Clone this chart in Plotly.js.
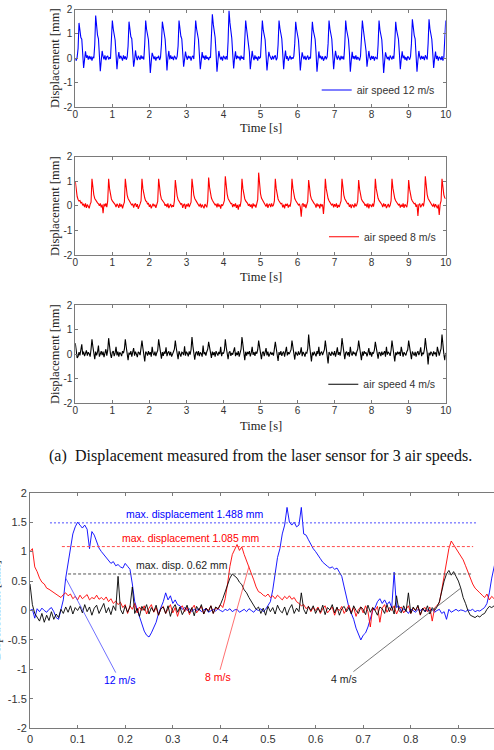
<!DOCTYPE html>
<html>
<head>
<meta charset="utf-8">
<script src="https://cdn.plot.ly/plotly-3.0.1.min.js"></script>
<style>
  html, body { margin: 0; padding: 0; overflow: hidden; background: #fff; }
  #chart { width: 520px; height: 750px; }
</style>
</head>
<body>
<div id="chart"></div>
<script>
// ---------------------------------------------------------------
// Laser-sensor displacement [mm], sampled every 25 ms over 10 s
// ---------------------------------------------------------------
const sampleStepLong = 0.025;   // s
const sampleStepShort = 0.005;  // s

// air speed 12 m/s (one row per flapping cycle, starting at the peak)
const disp12Lead = [0.0, -0.1, 0.05, 0.4];
const disp12Cycles = [
  [1.45, 1.12, 0.85, 0.78, 0.25, -0.4, -0.05, 0.28, 0.02, 0.12, -0.06, 0.1, -0.04, 0.08, -0.1, 0.06, 0.0, 0.55],
  [1.75, 1.3, 0.95, 0.8, 0.2, -0.53, -0.1, 0.3, 0.08, -0.05, 0.12, -0.08, 0.06, 0.1, -0.05, 0.04, -0.02, 0.6],
  [1.55, 1.2, 0.9, 0.75, 0.15, -0.45, 0.0, 0.25, -0.02, 0.1, 0.02, -0.1, 0.12, -0.03, 0.08, -0.06, 0.05, 0.5],
  [1.5, 1.15, 0.88, 0.8, 0.3, -0.35, -0.08, 0.32, 0.05, -0.08, 0.1, 0.04, -0.06, 0.12, -0.02, 0.07, -0.05, 0.6],
  [1.55, 1.18, 0.92, 0.76, 0.1, -0.6, -0.15, 0.22, 0.1, -0.04, 0.08, -0.1, 0.05, 0.0, 0.1, -0.07, 0.03, 0.55],
  [1.5, 1.2, 0.87, 0.78, 0.2, -0.5, 0.02, 0.3, -0.05, 0.12, -0.02, 0.06, -0.08, 0.1, 0.03, -0.05, 0.08, 0.5],
  [1.55, 1.16, 0.9, 0.8, 0.28, -0.35, -0.05, 0.27, 0.06, -0.06, 0.1, 0.0, 0.08, -0.1, 0.05, 0.1, -0.03, 0.6],
  [1.55, 1.2, 0.95, 0.77, 0.15, -0.45, -0.1, 0.25, 0.0, 0.1, -0.07, 0.12, -0.02, 0.05, -0.08, 0.06, 0.02, 0.65],
  [1.8, 1.4, 1.05, 0.85, 0.22, -0.55, -0.12, 0.3, 0.08, -0.05, 0.06, -0.1, 0.1, 0.02, -0.04, 0.09, -0.06, 0.7],
  [1.95, 1.45, 1.1, 0.82, 0.18, -0.42, 0.0, 0.28, -0.04, 0.1, 0.0, 0.07, -0.09, 0.11, -0.02, 0.05, -0.07, 0.55],
  [1.55, 1.2, 0.9, 0.78, 0.25, -0.45, -0.06, 0.3, 0.05, -0.08, 0.12, -0.03, 0.06, -0.1, 0.08, 0.0, 0.04, 0.6],
  [1.55, 1.15, 0.88, 0.76, 0.12, -0.5, -0.1, 0.26, 0.1, 0.0, -0.06, 0.1, -0.04, 0.07, 0.12, -0.08, 0.02, 0.55],
  [1.55, 1.22, 0.92, 0.8, 0.2, -0.45, 0.02, 0.32, -0.03, 0.08, -0.1, 0.05, 0.1, -0.05, 0.04, -0.02, 0.09, 0.6],
  [1.5, 1.18, 0.9, 0.75, 0.18, -0.5, -0.08, 0.24, 0.06, -0.04, 0.1, -0.07, 0.03, 0.11, -0.06, 0.05, -0.01, 0.55],
  [1.5, 1.14, 0.87, 0.78, 0.22, -0.55, -0.12, 0.28, 0.0, 0.1, -0.05, 0.08, -0.1, 0.04, 0.09, -0.04, 0.06, 0.6],
  [1.55, 1.2, 0.93, 0.79, 0.16, -0.45, -0.02, 0.3, 0.07, -0.06, 0.11, 0.0, -0.08, 0.1, -0.03, 0.07, -0.05, 0.55],
  [1.55, 1.17, 0.9, 0.77, 0.24, -0.55, -0.1, 0.26, -0.02, 0.09, -0.04, 0.12, -0.06, 0.05, 0.0, -0.09, 0.08, 0.6],
  [1.55, 1.2, 0.91, 0.8, 0.3, -0.35, 0.0, 0.3, 0.04, -0.07, 0.1, -0.02, 0.08, -0.1, 0.06, 0.02, -0.04, 0.55],
  [1.55, 1.16, 0.88, 0.76, 0.12, -0.6, -0.14, 0.24, 0.08, -0.03, 0.06, -0.09, 0.11, 0.0, -0.05, 0.1, -0.02, 0.6],
  [1.5, 1.15, 0.9, 0.78, 0.2, -0.45, -0.04, 0.28, 0.0, 0.11, -0.06, 0.05, -0.1, 0.08, 0.03, -0.06, 0.07, 0.6],
  [1.6, 1.22, 0.94, 0.8, 0.18, -0.55, -0.08, 0.3, 0.06, -0.05, 0.1, -0.02, 0.07, -0.08, 0.12, 0.0, -0.05, 0.6],
  [1.6, 1.2, 0.92, 0.78, 0.22, -0.4, -0.02, 0.27, -0.03, 0.1, -0.1, 0.06, 0.02, -0.07, 0.09, -0.1, 0.04, 0.65]
];
const disp12Tail = [1.55];

// air speed 8 m/s
const disp8Lead = [1.0, 0.6, 0.38, 0.26, 0.2, 0.22, 0.12, 0.14, 0.02, 0.08, -0.05, 0.1, -0.08, 0.05, 0.0, -0.1, 0.06, 0.15];
const disp8Cycles = [
  [1.1, 0.72, 0.45, 0.3, 0.22, 0.2, 0.12, 0.08, 0.0, 0.1, -0.06, 0.05, -0.3, 0.08, -0.02, 0.1, -0.05, 0.2],
  [1.1, 0.7, 0.42, 0.28, 0.2, 0.15, 0.1, 0.05, -0.05, 0.08, 0.02, -0.08, 0.1, -0.03, 0.06, -0.1, 0.04, 0.15],
  [1.1, 0.68, 0.44, 0.3, 0.24, 0.16, 0.1, 0.02, 0.09, -0.07, 0.05, 0.1, -0.04, 0.07, -0.12, 0.03, 0.08, 0.2],
  [1.1, 0.7, 0.46, 0.32, 0.2, 0.18, 0.08, 0.1, -0.04, 0.06, -0.1, 0.04, 0.09, -0.02, 0.05, -0.08, 0.1, 0.18],
  [1.1, 0.72, 0.45, 0.28, 0.22, 0.14, 0.12, 0.0, 0.07, -0.05, 0.1, -0.09, 0.03, 0.08, -0.06, 0.02, -0.04, 0.2],
  [1.05, 0.68, 0.4, 0.26, 0.2, 0.16, 0.06, 0.1, -0.08, 0.04, 0.08, -0.12, 0.06, -0.02, 0.1, -0.05, 0.03, 0.15],
  [1.1, 0.7, 0.44, 0.3, 0.21, 0.18, 0.1, 0.04, -0.02, 0.09, -0.07, 0.05, 0.0, -0.1, 0.07, 0.02, -0.06, 0.2],
  [1.15, 0.75, 0.47, 0.32, 0.23, 0.17, 0.11, 0.03, 0.08, -0.06, 0.1, -0.03, 0.05, -0.11, 0.06, 0.0, 0.09, 0.22],
  [1.2, 0.78, 0.48, 0.3, 0.22, 0.19, 0.09, 0.1, -0.05, 0.07, -0.02, 0.1, -0.08, 0.04, -0.15, 0.06, -0.03, 0.2],
  [1.1, 0.7, 0.44, 0.29, 0.2, 0.15, 0.1, 0.0, 0.08, -0.04, 0.06, -0.1, 0.1, -0.02, 0.05, -0.07, 0.08, 0.25],
  [1.35, 0.85, 0.5, 0.32, 0.24, 0.2, 0.12, 0.06, -0.03, 0.1, -0.08, 0.04, 0.07, -0.05, 0.1, -0.02, 0.03, 0.2],
  [1.1, 0.7, 0.43, 0.28, 0.2, 0.16, 0.08, 0.1, -0.06, 0.05, -0.1, 0.08, 0.0, 0.09, -0.07, 0.04, -0.03, 0.2],
  [1.1, 0.72, 0.45, 0.3, 0.22, 0.15, 0.1, 0.03, 0.08, -0.05, -0.44, 0.06, 0.1, -0.04, 0.07, -0.09, 0.05, 0.18],
  [1.05, 0.68, 0.42, 0.28, 0.2, 0.17, 0.09, 0.05, -0.07, 0.1, -0.02, 0.06, -0.1, 0.08, 0.0, 0.05, -0.33, 0.15],
  [1.1, 0.7, 0.45, 0.3, 0.21, 0.16, 0.11, 0.02, 0.09, -0.06, 0.07, -0.03, 0.1, -0.08, 0.04, -0.05, 0.08, 0.2],
  [1.1, 0.71, 0.44, 0.29, 0.23, 0.18, 0.08, 0.1, -0.04, 0.06, -0.09, 0.05, 0.02, -0.07, 0.1, -0.02, 0.04, 0.2],
  [1.05, 0.68, 0.42, 0.28, 0.2, 0.15, 0.1, 0.0, 0.08, -0.06, 0.1, -0.1, 0.05, 0.03, -0.05, 0.09, -0.03, 0.18],
  [1.1, 0.7, 0.45, 0.31, 0.22, 0.17, 0.09, 0.06, -0.05, 0.1, -0.02, 0.07, -0.09, 0.04, 0.08, -0.06, 0.02, 0.2],
  [1.1, 0.72, 0.44, 0.3, 0.21, 0.16, 0.11, 0.03, 0.08, -0.07, 0.05, -0.04, 0.1, -0.08, 0.06, 0.0, -0.05, 0.2],
  [1.05, 0.68, 0.42, 0.28, 0.2, 0.15, 0.08, 0.1, -0.04, 0.06, -0.41, 0.05, 0.09, -0.06, 0.03, 0.1, -0.02, 0.22],
  [1.2, 0.76, 0.46, 0.3, 0.22, 0.18, 0.1, 0.04, -0.03, 0.09, -0.06, 0.07, 0.0, -0.1, 0.05, -0.37, 0.06, 0.2]
];
const disp8Tail = [1.1, 0.72, 0.45, 0.32, 0.3];

// air speed 4 m/s
const disp4Lead = [0.45, 0.05, -0.15, -0.1, 0.08, -0.05, 0.12, 0.4, -0.02, 0.1, -0.08, 0.05, 0.15, -0.06, 0.08, 0.02, -0.1, 0.2];
const disp4Cycles = [
  [0.6, 0.3, 0.02, -0.2, 0.1, -0.05, 0.08, 0.35, -0.1, 0.06, 0.12, -0.04, 0.1, -0.12, 0.05, 0.2, -0.06, 0.15],
  [0.65, 0.28, 0.0, -0.15, 0.08, 0.12, -0.08, 0.05, 0.3, -0.05, 0.1, -0.1, 0.07, 0.02, -0.08, 0.12, 0.04, 0.2],
  [0.6, 0.3, 0.05, -0.25, 0.06, -0.02, 0.12, -0.1, 0.08, 0.25, -0.06, 0.1, 0.0, -0.12, 0.09, 0.05, -0.04, 0.18],
  [0.55, 0.25, 0.0, -0.3, 0.1, 0.05, -0.06, 0.12, -0.02, 0.08, -0.1, 0.3, 0.04, -0.05, 0.1, -0.08, 0.06, 0.15],
  [0.6, 0.3, 0.04, -0.18, 0.08, -0.07, 0.1, 0.02, 0.28, -0.08, 0.06, 0.11, -0.05, 0.09, -0.1, 0.04, 0.1, 0.2],
  [0.55, 0.26, 0.02, -0.2, 0.12, 0.0, -0.1, 0.08, 0.05, -0.04, 0.32, -0.06, 0.1, 0.03, -0.09, 0.11, -0.02, 0.18],
  [0.7, 0.32, 0.06, -0.22, 0.05, 0.1, -0.05, 0.12, -0.08, 0.07, 0.02, -0.1, 0.35, 0.0, 0.08, -0.06, 0.1, 0.2],
  [0.5, 0.24, 0.0, -0.15, 0.1, -0.04, 0.08, -0.1, 0.12, 0.04, -0.06, 0.09, 0.0, 0.3, -0.08, 0.06, 0.02, 0.16],
  [0.6, 0.28, 0.03, -0.2, 0.07, 0.11, -0.07, 0.05, -0.02, 0.1, 0.28, -0.08, 0.06, -0.04, 0.12, -0.1, 0.05, 0.2],
  [0.7, 0.33, 0.05, -0.25, 0.1, -0.06, 0.09, 0.0, 0.12, -0.09, 0.05, 0.3, -0.03, 0.08, -0.07, 0.1, 0.02, 0.18],
  [0.55, 0.26, 0.01, -0.2, 0.06, 0.1, -0.08, 0.07, 0.25, -0.05, 0.1, -0.1, 0.04, 0.09, -0.02, 0.06, -0.06, 0.15],
  [0.5, 0.24, 0.0, -0.28, 0.08, -0.03, 0.12, -0.07, 0.05, 0.1, -0.1, 0.06, 0.3, -0.05, 0.08, 0.0, 0.1, 0.18],
  [0.55, 0.27, 0.03, -0.22, 0.1, 0.04, -0.06, 0.11, -0.02, 0.06, 0.28, -0.08, 0.09, 0.02, -0.1, 0.07, 0.04, 0.22],
  [0.8, 0.35, 0.06, -0.3, 0.07, -0.05, 0.1, 0.03, -0.09, 0.12, 0.0, 0.3, -0.07, 0.05, 0.1, -0.04, 0.06, 0.18],
  [0.55, 0.25, 0.02, -0.38, 0.09, 0.02, -0.07, 0.1, 0.05, -0.04, 0.12, -0.1, 0.06, 0.28, -0.03, 0.08, -0.06, 0.16],
  [0.65, 0.3, 0.04, -0.2, 0.06, 0.1, -0.05, 0.08, -0.1, 0.3, 0.03, -0.06, 0.11, 0.0, 0.07, -0.08, 0.1, 0.2],
  [0.55, 0.26, 0.0, -0.25, 0.1, -0.06, 0.12, 0.02, 0.07, -0.09, 0.05, 0.25, -0.04, 0.09, -0.1, 0.06, 0.03, 0.17],
  [0.5, 0.24, 0.02, -0.18, 0.08, 0.05, -0.08, 0.1, -0.03, 0.06, 0.12, -0.1, 0.3, -0.02, 0.08, 0.04, -0.07, 0.16],
  [0.55, 0.27, 0.03, -0.3, 0.07, -0.04, 0.1, 0.0, 0.09, -0.07, 0.3, 0.05, -0.1, 0.08, 0.02, -0.05, 0.1, 0.18],
  [0.55, 0.26, 0.01, -0.2, 0.11, 0.03, -0.06, 0.09, -0.1, 0.05, 0.12, -0.04, 0.07, 0.28, -0.08, 0.06, 0.0, 0.2],
  [0.65, 0.3, 0.05, -0.42, 0.06, -0.05, 0.1, 0.04, -0.08, 0.11, 0.0, 0.07, -0.1, 0.3, 0.05, -0.06, 0.09, 0.22]
];
const disp4Tail = [0.8, 0.3, 0.0, -0.25, 0.05];

// ---------------------------------------------------------------
// First second of the three records, sampled every 5 ms
// ---------------------------------------------------------------
const zoom12 = [
  0.0, 0.02, -0.13, 0.03, -0.02, 0.04, 0.0, -0.03, 0.02, 0.05,
  -0.02, -0.12, -0.15, 0.02, 0.18, 0.55, 0.8, 1.08, 1.3, 1.42,
  1.5, 1.45, 1.4, 1.45, 1.38, 1.05, 1.34, 1.28, 1.15, 1.06,
  1.0, 0.95, 0.89, 0.86, 0.8, 0.83, 0.76, 0.78, 0.74, 0.72,
  0.8, 0.75, 0.7, 0.45, 0.15, 0.02, -0.1, -0.25, -0.35, -0.42,
  -0.45, -0.38, -0.3, -0.2, -0.05, 0.05, 0.15, 0.3, 0.18, 0.25,
  0.12, 0.18, 0.1, 0.08, 0.02, 0.05, 0.0, 0.03, -0.02, 0.02,
  0.0, 0.03, -0.02, 0.01, 0.03, -0.03, 0.0, 0.02, -0.01, 0.03,
  0.0, -0.02, 0.02, 0.0, 0.03, -0.02, 0.01, 0.02, -0.03, 0.0,
  0.02, -0.02, 0.03, 0.0, -0.03, 0.02, 0.0, 0.03, -0.02, 0.02,
  0.08, 0.15, 0.35, 0.6, 0.9, 1.05, 1.3, 1.45, 1.75, 1.5,
  1.45, 1.5, 1.42, 1.45, 1.75, 1.3, 1.28, 1.2, 1.12, 1.05,
  1.0, 0.95, 0.88, 0.82, 0.78, 0.75, 0.72, 0.74, 0.7, 0.72,
  0.65, 0.58, 0.4, 0.2, 0.05, -0.05, -0.15, -0.3, -0.4, -0.5,
  -0.42, -0.38, -0.28, -0.12, 0.0, 0.05, 0.15, 0.2, 0.12, 0.18,
  0.1, 0.15, 0.05, 0.65, 0.05, 0.08, -0.02, 0.03, 0.0, -0.05,
  0.02, 0.0, -0.03, 0.02, 0.0, 0.03, -0.02, 0.01, 0.0, 0.02,
  -0.03, 0.0, 0.02, -0.05, -0.02, -0.15, 0.02, -0.03, 0.0, 0.02,
  -0.01, 0.01, 0.0, -0.02, 0.01, 0.0, 0.02, -0.02, 0.0, -0.01,
  0.02, 0.05, 0.12, 0.3, 0.55, 0.75, 0.95, 1.1, 1.3, 1.4,
  1.45
];
const zoom8 = [
  1.0, 1.05, 0.74, 0.66, 0.55, 0.48, 0.45, 0.38, 0.36, 0.33,
  0.3, 0.28, 0.24, 0.22, 0.27, 0.3, 0.25, 0.28, 0.2, 0.24,
  0.18, 0.26, 0.2, 0.23, 0.27, 0.18, 0.22, 0.2, 0.26, 0.19,
  0.22, 0.18, 0.23, 0.15, 0.2, 0.12, 0.16, 0.1, 0.14, 0.05,
  0.1, -0.05, 0.08, 0.02, 0.12, -0.04, 0.06, 0.0, 0.08, -0.06,
  0.04, 0.1, -0.03, 0.05, -0.08, 0.03, 0.07, -0.05, 0.02, 0.1,
  -0.04, 0.05, -0.1, 0.04, 0.08, -0.02, 0.06, -0.07, 0.03, 0.09,
  -0.04, 0.02, 0.07, -0.06, 0.04, 0.0, 0.08, -0.05, 0.05, 0.02,
  0.1, 0.05, 0.2, 0.45, 0.75, 0.95, 1.05, 1.12, 1.02, 1.08,
  0.95, 0.85, 0.75, 0.62, 0.52, 0.4, 0.32, 0.3, 0.26, 0.24,
  0.28, 0.22, 0.25, 0.2, 0.26, 0.22, 0.18, 0.24, 0.2, 0.25,
  0.19, 0.22, 0.15, 0.12, 0.08, 0.1, 0.03, 0.07, -0.02, 0.05,
  0.0, 0.06, -0.05, 0.03, 0.08, -0.04, 0.02, 0.06, -0.08, 0.04,
  0.0, 0.07, -0.05, 0.03, 0.09, -0.03, 0.05, -0.1, 0.02, 0.06,
  -0.04, 0.08, -0.02, -0.28, 0.05, 0.0, 0.07, -0.2, 0.04, 0.1,
  -0.03, 0.05, 0.0, 0.08, -0.06, 0.03, 0.06, -0.04, 0.02, 0.08,
  -0.05, 0.04, 0.0, 0.07, -0.08, 0.03, 0.05, -0.02, 0.06, -0.18,
  0.04, 0.08, 0.13, 0.35, 0.6, 0.78, 1.05, 1.18, 1.12, 1.06,
  1.0, 0.93, 0.86, 0.76, 0.65, 0.55, 0.45, 0.38, 0.33, 0.3,
  0.26, 0.22, 0.28, 0.18, 0.24, 0.2, 0.22, 0.18, 0.2, 0.16,
  0.18
];
const zoom4 = [
  0.45, 0.1, -0.05, -0.12, -0.18, -0.05, -0.2, -0.08, -0.17, -0.02,
  -0.15, -0.06, -0.12, 0.02, -0.05, 0.06, -0.03, 0.08, -0.06, 0.05,
  0.0, 0.07, -0.04, 0.1, -0.02, 0.06, -0.08, 0.04, 0.09, -0.05,
  0.03, 0.12, -0.04, 0.05, -0.07, 0.08, 0.0, 0.58, 0.02, -0.06,
  0.08, -0.03, 0.06, 0.4, -0.05, 0.04, -0.1, 0.07, 0.0, 0.1,
  -0.06, 0.05, -0.02, 0.09, -0.08, 0.03, 0.06, -0.05, 0.08, -0.1,
  0.04, 0.1, -0.03, 0.06, -0.07, 0.02, 0.09, -0.04, 0.05, -0.09,
  0.07, 0.0, 0.1, -0.06, 0.04, -0.02, 0.08, -0.05, 0.06, 0.03,
  0.1, 0.2, 0.32, 0.45, 0.55, 0.62, 0.58, 0.55, 0.48, 0.44,
  0.35, 0.3, 0.22, 0.15, 0.08, 0.02, 0.06, -0.05, 0.04, -0.08,
  0.07, -0.02, 0.05, -0.06, 0.09, 0.0, -0.04, 0.06, -0.08, 0.03,
  0.1, -0.05, 0.04, -0.02, 0.3, 0.02, -0.06, 0.07, 0.0, 0.08,
  -0.05, 0.04, -0.03, 0.09, -0.07, 0.05, 0.01, 0.1, -0.04, 0.06,
  -0.08, 0.03, 0.07, -0.02, 0.05, -0.06, 0.08, 0.0, -0.05, 0.06,
  0.02, -0.07, 0.09, -0.03, 0.05, 0.0, -0.08, 0.06, 0.03, -0.05,
  0.1, -0.02, 0.07, -0.06, 0.25, 0.0, -0.04, 0.08, -0.02, 0.3,
  -0.05, 0.06, 0.0, 0.09, -0.07, 0.04, -0.02, 0.08, -0.06, 0.05,
  0.0, 0.06, 0.15, 0.35, 0.5, 0.62, 0.68, 0.6, 0.66, 0.58,
  0.5, 0.38, 0.22, 0.12, 0.0, -0.08, -0.1, -0.12, -0.09, -0.11,
  -0.07, -0.05, 0.02, 0.07, 0.05, 0.08, 0.04, 0.06, 0.02, 0.05,
  0.03
];

// Peak amplitudes quoted on the lower plot [mm]
const maxDisp12 = 1.488;
const maxDisp8 = 1.085;
const maxDisp4 = 0.62;

// Legend names and tick labels
const seriesNames = ['air speed 12 m/s', 'air speed 8 m/s', 'air speed 4 m/s'];
const timeTicksLong = [0, 1, 2, 3, 4, 5, 6, 7, 8, 9, 10];
const timeTickTextLong = ['0', '1', '2', '3', '4', '5', '6', '7', '8', '9', '10'];
const dispTicksCoarse = [-2, -1, 0, 1, 2];
const dispTickTextCoarse = ['-2', '-1', '0', '1', '2'];
const timeTicksShort = [0, 0.1, 0.2, 0.3, 0.4, 0.5, 0.6, 0.7, 0.8, 0.9];
const timeTickTextShort = ['0', '0.1', '0.2', '0.3', '0.4', '0.5', '0.6', '0.7', '0.8', '0.9'];
const dispTicksFine = [-2, -1.5, -1, -0.5, 0, 0.5, 1, 1.5, 2];
const dispTickTextFine = ['-2', '-1.5', '-1', '-0.5', '0', '0.5', '1', '1.5', '2'];

// ---------------------------------------------------------------
// Assemble the series
// ---------------------------------------------------------------
const disp12 = disp12Lead.concat(...disp12Cycles, disp12Tail);
const disp8 = disp8Lead.concat(...disp8Cycles, disp8Tail);
const disp4 = disp4Lead.concat(...disp4Cycles, disp4Tail);
const timeLong = disp12.map((_, i) => +(i * sampleStepLong).toFixed(3));
const timeShort = zoom12.map((_, i) => +(i * sampleStepShort).toFixed(3));

// ---------------------------------------------------------------
// Page geometry (pixels) -> paper fractions
// ---------------------------------------------------------------
const W = 520, H = 750;
const fx = p => p / W;
const fy = p => 1 - p / H;

const SANS = 'Liberation Sans, Arial, sans-serif';
const SERIF = 'Liberation Serif, Times New Roman, serif';
const BLUE = '#0000ff', RED = '#ff0000', BLACK = '#000000';
const AXIS_GREY = '#7a7a7a';

const axisBase = {
  showline: true, linecolor: AXIS_GREY, linewidth: 1, mirror: 'ticks',
  ticks: 'inside', ticklen: 3, tickcolor: AXIS_GREY, tickwidth: 1,
  showgrid: false, zeroline: false, fixedrange: true,
  tickfont: { family: SANS, size: 10, color: '#333' }
};
const topX = [fx(75.3), fx(445.7)];
const panelRows = [[9.5, 107], [156.7, 255], [305, 403.3]];

function timeAxis(row) {
  return Object.assign({}, axisBase, {
    domain: topX, range: [0, 10], tickmode: 'array',
    tickvals: timeTicksLong, ticktext: timeTickTextLong, anchor: row,
    ticklabelstandoff: -2
  });
}
function dispAxis(row, col) {
  const r = panelRows[row];
  return Object.assign({}, axisBase, {
    domain: [fy(r[1]), fy(r[0])], range: [-2, 2], tickmode: 'array',
    tickvals: dispTicksCoarse, ticktext: dispTickTextCoarse, anchor: col
  });
}

const traces = [
  { x: timeLong, y: disp12, xaxis: 'x', yaxis: 'y', type: 'scatter', mode: 'lines',
    name: seriesNames[0], legend: 'legend', line: { color: BLUE, width: 1.1 } },
  { x: timeLong, y: disp8, xaxis: 'x2', yaxis: 'y2', type: 'scatter', mode: 'lines',
    name: seriesNames[1], legend: 'legend2', line: { color: RED, width: 1.1 } },
  { x: timeLong, y: disp4, xaxis: 'x3', yaxis: 'y3', type: 'scatter', mode: 'lines',
    name: seriesNames[2], legend: 'legend3', line: { color: BLACK, width: 1.1 } },

  // lower plot: first second of each record
  { x: timeShort, y: zoom12, xaxis: 'x4', yaxis: 'y4', type: 'scatter', mode: 'lines',
    showlegend: false, line: { color: BLUE, width: 0.9 } },
  { x: timeShort, y: zoom8, xaxis: 'x4', yaxis: 'y4', type: 'scatter', mode: 'lines',
    showlegend: false, line: { color: RED, width: 0.9 } },
  { x: timeShort, y: zoom4, xaxis: 'x4', yaxis: 'y4', type: 'scatter', mode: 'lines',
    showlegend: false, line: { color: BLACK, width: 0.9 } },

  // peak reference levels
  { x: [0.042, 0.938], y: [maxDisp12, maxDisp12], xaxis: 'x4', yaxis: 'y4', type: 'scatter',
    mode: 'lines', showlegend: false, line: { color: '#4d4dff', width: 1, dash: '2px,2px' } },
  { x: [0.067, 0.931], y: [maxDisp8, maxDisp8], xaxis: 'x4', yaxis: 'y4', type: 'scatter',
    mode: 'lines', showlegend: false, line: { color: '#ff4d4d', width: 1, dash: '3px,2px' } },
  { x: [0.08, 0.93], y: [maxDisp4, maxDisp4], xaxis: 'x4', yaxis: 'y4', type: 'scatter',
    mode: 'lines', showlegend: false, line: { color: '#555', width: 1, dash: '3px,2px' } }
];

const legendBase = {
  xref: 'paper', yref: 'paper', xanchor: 'left', yanchor: 'middle',
  bgcolor: 'rgba(0,0,0,0)', borderwidth: 0,
  font: { family: SANS, size: 10.5, color: '#333' }
};

function label(text, xp, yp, opts) {
  return Object.assign({
    text: text, xref: 'paper', yref: 'paper', x: fx(xp), y: fy(yp),
    xanchor: 'center', yanchor: 'middle', showarrow: false
  }, opts || {});
}
const serifTitle = { family: SERIF, size: 12.5, color: '#222' };
const captionFont = { family: SERIF, size: 16, color: '#111' };

const annotations = [
  label('Time [s]', 261, 128, { font: serifTitle }),
  label('Time [s]', 261, 277, { font: serifTitle }),
  label('Time [s]', 261, 426, { font: serifTitle }),
  label('Displacement [mm]', 55, 58, { font: serifTitle, textangle: -90 }),
  label('Displacement [mm]', 55, 206, { font: serifTitle, textangle: -90 }),
  label('Displacement [mm]', 55, 354, { font: serifTitle, textangle: -90 }),
  label('(a)', 47, 456, { xanchor: 'left', font: captionFont }),
  label('Displacement measured from the laser sensor for 3 air speeds.', 73, 456,
        { xanchor: 'left', font: captionFont }),
  label('Displacement [mm]', -4, 610, { font: serifTitle, textangle: -90 }),
  label('Time [s]', 262, 756, { font: serifTitle }),

  // peak level captions
  { xref: 'x4', yref: 'y4', x: 0.346, y: maxDisp12, yshift: 9, showarrow: false,
    text: 'max. displacement ' + maxDisp12.toFixed(3) + ' mm',
    font: { family: SANS, size: 10.5, color: BLUE } },
  { xref: 'x4', yref: 'y4', x: 0.338, y: maxDisp8, yshift: 9, showarrow: false,
    text: 'max. displacement ' + maxDisp8.toFixed(3) + ' mm',
    font: { family: SANS, size: 10.5, color: RED } },
  { xref: 'x4', yref: 'y4', x: 0.319, y: maxDisp4, yshift: 9, showarrow: false,
    text: 'max. disp. ' + maxDisp4.toFixed(2) + ' mm',
    font: { family: SANS, size: 10.5, color: '#222' } },

  // call-outs pointing at each record
  { xref: 'x4', yref: 'y4', x: timeShort[15], y: zoom12[15], ax: 54, ay: 102,
    text: '12 m/s', showarrow: true, arrowhead: 0, arrowwidth: 0.8, arrowcolor: '#4d4dff',
    standoff: 0, font: { family: SANS, size: 10.5, color: BLUE } },
  { xref: 'x4', yref: 'y4', x: timeShort[92], y: zoom8[92], ax: -31, ay: 111,
    text: '8 m/s', showarrow: true, arrowhead: 0, arrowwidth: 0.8, arrowcolor: '#ff4d4d',
    standoff: 0, font: { family: SANS, size: 10.5, color: RED } },
  { xref: 'x4', yref: 'y4', x: timeShort[181], y: zoom4[181], ax: -117, ay: 91,
    text: '4 m/s', showarrow: true, arrowhead: 0, arrowwidth: 0.8, arrowcolor: '#555',
    standoff: 0, font: { family: SANS, size: 10.5, color: '#222' } }
];

const layout = {
  width: W, height: H,
  margin: { l: 0, r: 0, t: 0, b: 0, pad: 0 },
  paper_bgcolor: '#fff', plot_bgcolor: '#fff',
  showlegend: true,
  xaxis: timeAxis('y'),
  yaxis: dispAxis(0, 'x'),
  xaxis2: timeAxis('y2'),
  yaxis2: dispAxis(1, 'x2'),
  xaxis3: timeAxis('y3'),
  yaxis3: dispAxis(2, 'x3'),
  xaxis4: Object.assign({}, axisBase, {
    domain: [fx(30), fx(506)], range: [0, 1], tickmode: 'array',
    tickvals: timeTicksShort, ticktext: timeTickTextShort, anchor: 'y4',
    tickfont: { family: SANS, size: 11, color: '#333' }
  }),
  yaxis4: Object.assign({}, axisBase, {
    domain: [fy(728.3), fy(492.7)], range: [-2, 2], tickmode: 'array',
    tickvals: dispTicksFine, ticktext: dispTickTextFine, anchor: 'x4',
    tickfont: { family: SANS, size: 11, color: '#333' }
  }),
  legend: Object.assign({}, legendBase, { x: fx(316.7), y: fy(90) }),
  legend2: Object.assign({}, legendBase, { x: fx(324), y: fy(236.7) }),
  legend3: Object.assign({}, legendBase, { x: fx(323.3), y: fy(384.3) }),
  annotations: annotations
};

Plotly.newPlot('chart', traces, layout, { staticPlot: true, displayModeBar: false });
</script>
</body>
</html>
